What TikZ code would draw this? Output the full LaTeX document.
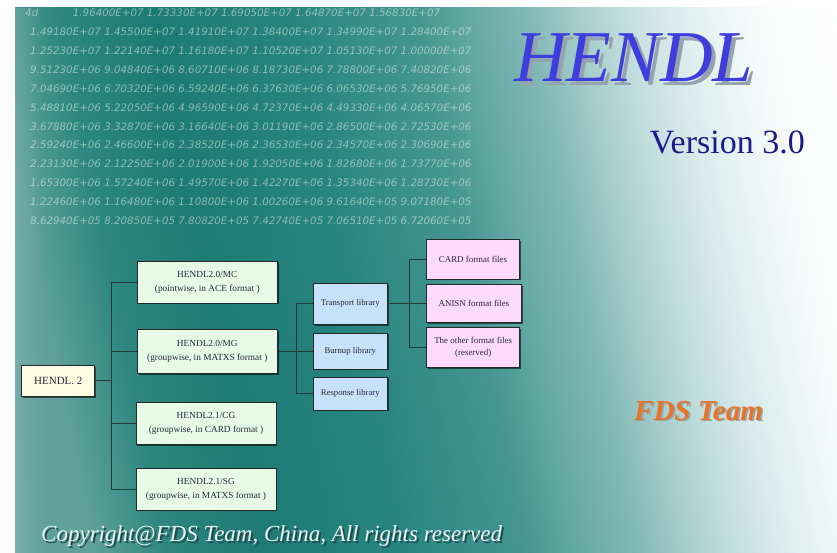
\documentclass[tikz,border=0pt]{standalone}
\usepackage{fontspec}
\setmainfont{Liberation Serif}
\newfontfamily\numfont{DejaVu Sans}
\usetikzlibrary{shadows,fadings}
\definecolor{bgA}{RGB}{115,172,168}
\definecolor{bgB}{RGB}{95,160,155}
\definecolor{bgC}{RGB}{45,135,128}
\definecolor{bgD}{RGB}{30,122,116}
\definecolor{bgE}{RGB}{40,132,127}
\definecolor{bgF}{RGB}{55,142,137}
\definecolor{bgG}{RGB}{70,150,145}
\definecolor{bgH}{RGB}{100,168,164}
\definecolor{bgI}{RGB}{130,185,183}
\definecolor{bgJ}{RGB}{165,205,203}
\definecolor{bgK}{RGB}{195,222,222}
\definecolor{bgL}{RGB}{218,235,235}
\definecolor{bgM}{RGB}{235,245,245}
\definecolor{bgN}{RGB}{250,252,252}
\pgfdeclarehorizontalshading{bgshade}{100bp}{color(0bp)=(bgA); color(25.4bp)=(bgB); color(30bp)=(bgC); color(36bp)=(bgD); color(45bp)=(bgE); color(49bp)=(bgF); color(53bp)=(bgG); color(56bp)=(bgH); color(60bp)=(bgI); color(63bp)=(bgJ); color(66bp)=(bgK); color(69bp)=(bgL); color(72bp)=(bgM); color(75bp)=(bgN); color(80bp)=(white); color(100bp)=(white)}
\definecolor{gbox}{RGB}{230,250,230}
\definecolor{bbox}{RGB}{200,225,250}
\definecolor{pbox}{RGB}{255,218,255}
\definecolor{cbox}{RGB}{255,252,225}
\definecolor{boxline}{RGB}{35,40,40}
\definecolor{boxtext}{RGB}{40,40,55}
\definecolor{lineC}{RGB}{40,55,55}
\definecolor{titleblue}{RGB}{62,62,222}
\definecolor{titleshadow}{RGB}{150,162,172}
\definecolor{navy}{RGB}{26,26,140}
\definecolor{fdsorange}{RGB}{232,115,42}
\definecolor{fdsshadow}{RGB}{150,165,165}
\definecolor{copytext}{RGB}{235,243,243}
\definecolor{copyshadow}{RGB}{30,75,75}
\newcommand{\shadowtext}[4]{\makebox[0pt][l]{\hspace{#3}\raisebox{-#3}{\textcolor{#2}{#4}}}\textcolor{#1}{#4}}
\begin{document}
\begin{tikzpicture}[x=1pt,y=-1pt,
  numrow/.style={anchor=base west, inner sep=0pt, font=\numfont\itshape\fontsize{10.3}{12}\selectfont, text=white, text opacity=0.47},
  box/.style={draw=boxline, line width=1pt, inner sep=1pt, align=center, text=boxtext,
    drop shadow={shadow xshift=1.3pt, shadow yshift=-1.3pt, opacity=.55, fill=black}},
  gnode/.style={box, fill=gbox, minimum width=140pt, minimum height=42pt, font=\fontsize{9.3}{14}\selectfont},
  bnode/.style={box, fill=bbox, minimum width=74pt, font=\fontsize{8.7}{12}\selectfont},
  pnode/.style={box, fill=pbox, minimum width=93pt, minimum height=39pt, font=\fontsize{8.9}{12}\selectfont},
  rootnode/.style={box, fill=cbox, minimum width=73pt, minimum height=31pt, font=\fontsize{11}{13}\selectfont},
  conn/.style={draw=lineC, line width=1pt},
  plain/.style={inner sep=0pt}]
\useasboundingbox (0,0) rectangle (837,553);
\fill[white] (0,0) rectangle (837,553);
\shade[shading=bgshade, shading angle=11.5] (15,8) rectangle (837,553);
\fill[white, opacity=.12, path fading=east] (15,8) rectangle (45,553);
\begin{scope}
\clip (15,8) rectangle (837,553);
\node[numrow] (n0) at (25,17) {4d};
\node[numrow] (n1) at (72.7,17) {1.96400E+07 1.73330E+07 1.69050E+07 1.64870E+07 1.56830E+07};
\node[numrow] (n2) at (30,35.85) {1.49180E+07 1.45500E+07 1.41910E+07 1.38400E+07 1.34990E+07 1.28400E+07};
\node[numrow] (n3) at (30,54.7) {1.25230E+07 1.22140E+07 1.16180E+07 1.10520E+07 1.05130E+07 1.00000E+07};
\node[numrow] (n4) at (30,73.55) {9.51230E+06 9.04840E+06 8.60710E+06 8.18730E+06 7.78800E+06 7.40820E+06};
\node[numrow] (n5) at (30,92.4) {7.04690E+06 6.70320E+06 6.59240E+06 6.37630E+06 6.06530E+06 5.76950E+06};
\node[numrow] (n6) at (30,111.25) {5.48810E+06 5.22050E+06 4.96590E+06 4.72370E+06 4.49330E+06 4.06570E+06};
\node[numrow] (n7) at (30,130.1) {3.67880E+06 3.32870E+06 3.16640E+06 3.01190E+06 2.86500E+06 2.72530E+06};
\node[numrow] (n8) at (30,148.95) {2.59240E+06 2.46600E+06 2.38520E+06 2.36530E+06 2.34570E+06 2.30690E+06};
\node[numrow] (n9) at (30,167.8) {2.23130E+06 2.12250E+06 2.01900E+06 1.92050E+06 1.82680E+06 1.73770E+06};
\node[numrow] (n10) at (30,186.65) {1.65300E+06 1.57240E+06 1.49570E+06 1.42270E+06 1.35340E+06 1.28730E+06};
\node[numrow] (n11) at (30,205.5) {1.22460E+06 1.16480E+06 1.10800E+06 1.00260E+06 9.61640E+05 9.07180E+05};
\node[numrow] (n12) at (30,224.35) {8.62940E+05 8.20850E+05 7.80820E+05 7.42740E+05 7.06510E+05 6.72060E+05};
\end{scope}
% title and captions
\node[plain, anchor=base west, font=\itshape\fontsize{73}{73}\selectfont] (title) at (514,82) {\shadowtext{titleblue}{titleshadow}{4pt}{HENDL}};
\node[plain, anchor=base east, font=\fontsize{34}{34}\selectfont, text=navy] (version) at (805,154) {Version 3.0};
\node[plain, anchor=base west, font=\bfseries\itshape\fontsize{29}{29}\selectfont] (fds) at (634,420) {\shadowtext{fdsorange}{fdsshadow}{1.8pt}{FDS Team}};
\node[plain, anchor=base west, font=\itshape\fontsize{23}{23}\selectfont] (copy) at (41,541) {\shadowtext{copytext}{copyshadow}{2pt}{Copyright@FDS Team, China, All rights reserved}};
% tree nodes
\node[rootnode] (root) at (58.3,380.8) {HENDL. 2};
\node[gnode] (mc) at (207.3,282) {HENDL2.0/MC\\(pointwise, in ACE format )};
\node[gnode, minimum height=44pt] (mg) at (207.3,351.5) {HENDL2.0/MG\\(groupwise, in MATXS format )};
\node[gnode] (cg) at (206,423.5) {HENDL2.1/CG\\(groupwise, in CARD format )};
\node[gnode] (sg) at (206,489) {HENDL2.1/SG\\(groupwise, in MATXS format )};
\node[bnode, minimum height=41pt] (tr) at (350.3,303.8) {Transport library};
\node[bnode, minimum height=36pt] (bu) at (350.3,351) {Burnup library};
\node[bnode, minimum height=33pt] (re) at (350.3,393.5) {Response library};
\node[pnode] (card) at (473,259.5) {CARD format files};
\node[pnode, minimum width=95pt, minimum height=38pt] (anisn) at (474,303.3) {ANISN format files};
\node[pnode, minimum height=40pt] (other) at (473.2,347.5) {The other format files\\(reserved)};
% connector junction columns
\coordinate (t1) at (111,0);
\coordinate (t2) at (296,0);
\coordinate (t3) at (409.3,0);
\draw[conn] (mc.west) -- (mc.west -| t1) -- (sg.west -| t1) -- (sg.west);
\draw[conn] (mg.west) -- (mg.west -| t1);
\draw[conn] (cg.west) -- (cg.west -| t1);
\draw[conn] (root.east) -- (root.east -| t1);
\draw[conn] (mg.east) -- (mg.east -| t2);
\draw[conn] (tr.west) -- (tr.west -| t2) -- (re.west -| t2) -- (re.west);
\draw[conn] (bu.west) -- (bu.west -| t2);
\draw[conn] (tr.east) -- (tr.east -| t3);
\draw[conn] (card.west) -- (card.west -| t3) -- (other.west -| t3) -- (other.west);
\draw[conn] (anisn.west) -- (anisn.west -| t3);
\end{tikzpicture}
\end{document}
